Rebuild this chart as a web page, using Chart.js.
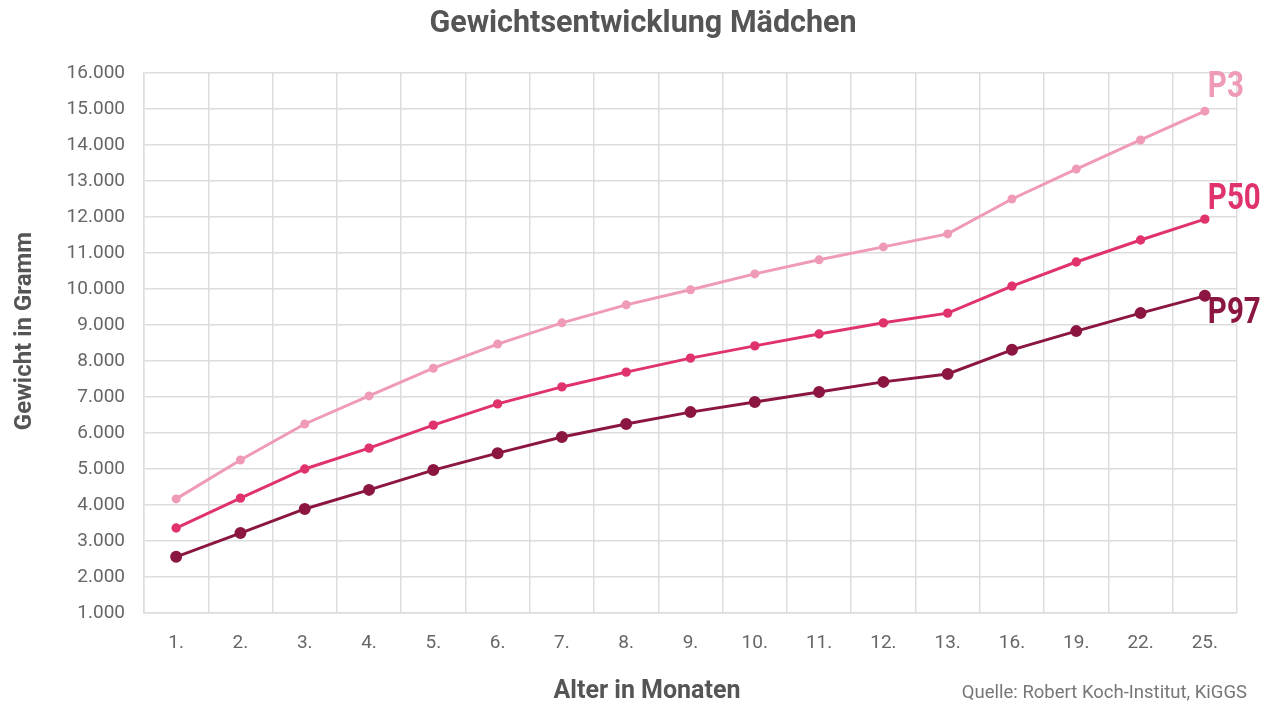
<!DOCTYPE html>
<html>
<head>
<meta charset="utf-8">
<script src="https://cdn.jsdelivr.net/npm/chart.js@4.4.1/dist/chart.umd.min.js"></script>
<style>
  html, body { margin: 0; padding: 0; background: #fff; }
  #wrap { width: 1280px; height: 716px; position: relative; }
</style>
</head>
<body>
<div id="wrap"><canvas id="weightChart"></canvas></div>
<script>
// Alter in Monaten
const months = ['1.', '2.', '3.', '4.', '5.', '6.', '7.', '8.', '9.', '10.', '11.', '12.', '13.', '16.', '19.', '22.', '25.'];

// Gewicht in Gramm
const p3Values  = [4170, 5250, 6250, 7030, 7800, 8470, 9060, 9560, 9980, 10420, 10810, 11170, 11530, 12500, 13330, 14140, 14940];
const p50Values = [3360, 4190, 5000, 5580, 6220, 6810, 7280, 7690, 8080, 8420, 8750, 9060, 9330, 10080, 10750, 11360, 11940];
const p97Values = [2560, 3220, 3890, 4420, 4970, 5440, 5890, 6250, 6580, 6860, 7140, 7420, 7640, 8310, 8830, 9330, 9810];

const seriesNames = ['P3', 'P50', 'P97'];
const yMin = 1000, yMax = 16000, yStep = 1000;

const COLORS = { p3: '#ef9ab7', p50: '#e0336c', p97: '#8c1642', text: '#555555', tick: '#666666', grid: '#dddddd' };
const FONT = 'Roboto, sans-serif';

const fmt = v => String(v).replace(/\B(?=(\d{3})+(?!\d))/g, '.');

// titles, end-of-line labels and the source note
const textLayer = {
    id: 'textLayer',
    afterDraw(chart) {
        const ctx = chart.ctx;
        ctx.save();
        ctx.fillStyle = COLORS.text;
        ctx.textBaseline = 'middle';
        ctx.textAlign = 'center';
        ctx.font = `bold 30.5px ${FONT}`;
        ctx.fillText('Gewichtsentwicklung Mädchen', 643, 24);
        ctx.font = `bold 25px ${FONT}`;
        ctx.fillText('Alter in Monaten', 647, 692);
        ctx.save();
        ctx.translate(25, 331);
        ctx.rotate(-Math.PI / 2);
        ctx.font = `bold 24px ${FONT}`;
        ctx.fillText('Gewicht in Gramm', 0, 0);
        ctx.restore();

        ctx.font = `18.5px ${FONT}`;
        ctx.fillStyle = '#777';
        ctx.textAlign = 'right';
        ctx.fillText('Quelle: Robert Koch-Institut, KiGGS', 1247, 693);

        // condensed look for the series labels
        const offsets = [-23, -19, 18];
        ctx.font = `bold 36px ${FONT}`;
        ctx.textAlign = 'left';
        chart.data.datasets.forEach((ds, i) => {
            const meta = chart.getDatasetMeta(i);
            const pt = meta.data[meta.data.length - 1];
            ctx.save();
            ctx.translate(pt.x + 3, pt.y + offsets[i]);
            ctx.scale(0.82, 1);
            ctx.fillStyle = ds.borderColor;
            ctx.fillText(ds.label, 0, 0);
            ctx.restore();
        });
        ctx.restore();
    }
};

const ctx = document.getElementById('weightChart').getContext('2d');
new Chart(ctx, {
    type: 'line',
    data: {
        labels: months,
        datasets: [
            { label: seriesNames[0], data: p3Values, borderColor: COLORS.p3, backgroundColor: COLORS.p3, borderWidth: 3, pointRadius: 3, pointHoverRadius: 3 },
            { label: seriesNames[1], data: p50Values, borderColor: COLORS.p50, backgroundColor: COLORS.p50, borderWidth: 3, pointRadius: 3.2, pointHoverRadius: 3.2 },
            { label: seriesNames[2], data: p97Values, borderColor: COLORS.p97, backgroundColor: COLORS.p97, borderWidth: 3, pointRadius: 4.5, pointHoverRadius: 4.5 }
        ]
    },
    options: {
        responsive: true,
        maintainAspectRatio: false,
        animation: false,
        layout: { padding: { left: 0, right: 43, top: 73, bottom: 0 } },
        elements: { line: { tension: 0 } },
        plugins: {
            legend: { display: false },
            tooltip: { enabled: false },
            title: { display: false }
        },
        scales: {
            x: {
                offset: true,
                grid: { offset: true, color: COLORS.grid, lineWidth: 1.5, drawTicks: false },
                border: { color: COLORS.grid, width: 1.5 },
                ticks: { color: COLORS.tick, font: { family: FONT, size: 19 }, padding: 19 },
                afterFit: s => { s.height = 103; }
            },
            y: {
                min: yMin,
                max: yMax,
                ticks: { stepSize: yStep, color: COLORS.tick, font: { family: FONT, size: 19 }, padding: 19, callback: v => fmt(v) },
                grid: { color: COLORS.grid, lineWidth: 1.5, drawTicks: false },
                border: { color: COLORS.grid, width: 1.5 },
                afterFit: s => { s.width = 144; }
            }
        }
    },
    plugins: [textLayer]
});
</script>
</body>
</html>
